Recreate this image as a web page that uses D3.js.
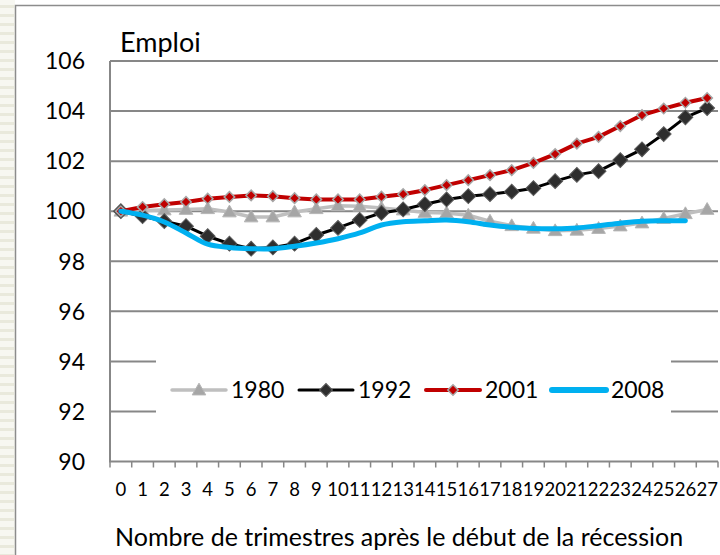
<!DOCTYPE html>
<html>
<head>
<meta charset="utf-8">
<script src="https://cdn.jsdelivr.net/npm/d3@7"></script>
<style>
  body { margin: 0; background: #fff; }
  svg { display: block; font-family: Lato, "Open Sans", sans-serif; }
</style>
</head>
<body>
<svg id="chart" width="720" height="555"></svg>
<script>
// quarters after start of recession (category axis)
var quarters = d3.range(28).map(String);
var yTicks = [90, 92, 94, 96, 98, 100, 102, 104, 106];
var seriesNames = ["1980", "1992", "2001", "2008"];

// index, 100 = start of recession
var emploi1980 = [100, 100.03, 100.05, 100.07, 100.1, 99.97, 99.77, 99.77, 99.97, 100.1,
                  100.22, 100.2, 100.13, 100.05, 99.95, 99.93, 99.84, 99.6, 99.42, 99.32,
                  99.22, 99.24, 99.31, 99.41, 99.53, 99.71, 99.9, 100.07];
var emploi1992 = [100, 99.8, 99.6, 99.4, 99.0, 98.7, 98.5, 98.55, 98.7, 99.05,
                  99.33, 99.65, 99.93, 100.07, 100.28, 100.47, 100.6, 100.68, 100.78, 100.92,
                  101.2, 101.45, 101.6, 102.04, 102.47, 103.08, 103.75, 104.12];
var emploi2001 = [100, 100.17, 100.28, 100.37, 100.5, 100.57, 100.63, 100.6, 100.52, 100.47,
                  100.47, 100.47, 100.58, 100.68, 100.84, 101.04, 101.24, 101.44, 101.64, 101.93,
                  102.28, 102.7, 102.97, 103.4, 103.84, 104.1, 104.33, 104.52];
var emploi2008 = [100, 99.84, 99.57, 99.13, 98.68, 98.55, 98.5, 98.5, 98.6, 98.73,
                  98.9, 99.13, 99.45, 99.58, 99.62, 99.65, 99.58, 99.45, 99.36, 99.31,
                  99.3, 99.33, 99.42, 99.52, 99.6, 99.62, 99.62];

var svg = d3.select("#chart");

var PLOT_LEFT = 110, PLOT_RIGHT = 718, PLOT_TOP = 61, PLOT_BOTTOM = 461.5;
var GRID_COLOR = "#878787";

var x = d3.scaleBand().domain(quarters).range([PLOT_LEFT, PLOT_RIGHT]);
var y = d3.scaleLinear().domain([90, 106]).range([PLOT_BOTTOM, PLOT_TOP]);
function cx(d, i){ return x(quarters[i]) + x.bandwidth() / 2; }

// pale striped strip on the far left (page behind the chart)
var strip = svg.append("g");
strip.append("rect").attr("x", 0).attr("y", 0).attr("width", 15).attr("height", 555).attr("fill", "#f7f7f1");
strip.selectAll("rect.stripe")
    .data(d3.range(0, 555, 9))
    .enter().append("rect")
    .attr("class", "stripe")
    .attr("x", 0).attr("width", 14)
    .attr("y", function(d){ return d + 5; })
    .attr("height", 3)
    .attr("fill", "#e9e9dc");

// chart frame
svg.append("rect")
    .attr("x", 15.5).attr("y", 5.5)
    .attr("width", 720).attr("height", 560)
    .attr("fill", "#fff")
    .attr("stroke", "#8c8c8c")
    .attr("stroke-width", 1.5);

// gridlines
svg.selectAll("line.grid")
    .data(yTicks.filter(function(t){ return t > 90; }))
    .enter().append("line")
    .attr("class", "grid")
    .attr("x1", PLOT_LEFT).attr("x2", PLOT_RIGHT)
    .attr("y1", function(d){ return y(d); })
    .attr("y2", function(d){ return y(d); })
    .style("stroke", GRID_COLOR)
    .style("stroke-width", 2);

// y axis line + labels
svg.append("line")
    .attr("x1", PLOT_LEFT).attr("x2", PLOT_LEFT)
    .attr("y1", PLOT_TOP).attr("y2", PLOT_BOTTOM)
    .style("stroke", GRID_COLOR).style("stroke-width", 2);

svg.selectAll("text.ylab")
    .data(yTicks)
    .enter().append("text")
    .attr("class", "ylab")
    .attr("x", 85)
    .attr("y", function(d){ return y(d); })
    .attr("dy", "0.36em")
    .attr("text-anchor", "end")
    .style("font-size", "23px")
    .style("fill", "#000")
    .text(function(d){ return d; });

// x axis with ticks between categories
var xAxis = d3.axisBottom(x).tickSize(0).tickPadding(21);
var gx = svg.append("g")
    .attr("transform", "translate(0," + PLOT_BOTTOM + ")")
    .call(xAxis);
gx.select(".domain").remove();
gx.selectAll("text")
    .style("font-family", "Lato, 'Open Sans', sans-serif")
    .style("font-size", "18.5px")
    .style("fill", "#000");

svg.append("line")
    .attr("x1", PLOT_LEFT - 1).attr("x2", PLOT_RIGHT)
    .attr("y1", PLOT_BOTTOM).attr("y2", PLOT_BOTTOM)
    .style("stroke", GRID_COLOR).style("stroke-width", 2);

svg.selectAll("line.xtick")
    .data(quarters.concat(["end"]))
    .enter().append("line")
    .attr("class", "xtick")
    .attr("x1", function(d, i){ return PLOT_LEFT + i * x.bandwidth(); })
    .attr("x2", function(d, i){ return PLOT_LEFT + i * x.bandwidth(); })
    .attr("y1", PLOT_BOTTOM).attr("y2", PLOT_BOTTOM + 6)
    .style("stroke", GRID_COLOR).style("stroke-width", 1.5);

// titles
svg.append("text")
    .attr("x", 120).attr("y", 52)
    .style("font-size", "27px")
    .text("Emploi");

svg.append("text")
    .attr("x", 115).attr("y", 546)
    .style("font-size", "25px")
    .text("Nombre de trimestres après le début de la récession");

// marker shapes
var triangle = d3.symbol().type(d3.symbolTriangle);
var square = d3.symbol().type(d3.symbolSquare);

var styles = {
    "1980": {stroke: "#bfbfbf", width: 3.5, marker: "tri", size: 80, fill: "#a6a6a6", mstroke: "#b5b5b5", mwidth: 1},
    "1992": {stroke: "#000000", width: 3, marker: "dia", size: 110, fill: "#2e2e2e", mstroke: "#595959", mwidth: 1},
    "2001": {stroke: "#c00000", width: 4, marker: "dia", size: 55, fill: "#c00000", mstroke: "#a6a6a6", mwidth: 1.5},
    "2008": {stroke: "#00b0f0", width: 5, marker: null}
};
var seriesData = {"1980": emploi1980, "1992": emploi1992, "2001": emploi2001, "2008": emploi2008};

function drawMarker(g, st, px, py, scale){
    if(st.marker == "tri"){
        g.append("path")
            .attr("d", triangle.size(st.size * scale)())
            .attr("transform", "translate(" + px + "," + (py + 1) + ")")
            .attr("fill", st.fill).attr("stroke", st.mstroke).attr("stroke-width", st.mwidth);
    }else if(st.marker == "dia"){
        g.append("path")
            .attr("d", square.size(st.size * scale)())
            .attr("transform", "translate(" + px + "," + py + ") rotate(45)")
            .attr("fill", st.fill).attr("stroke", st.mstroke).attr("stroke-width", st.mwidth);
    }
}

var straight = d3.line().x(cx).y(function(d){ return y(d); });
var smooth = d3.line().x(cx).y(function(d){ return y(d); }).curve(d3.curveCatmullRom.alpha(0.5));

seriesNames.forEach(function(name){
    var st = styles[name];
    var vals = seriesData[name];
    var g = svg.append("g").attr("class", "series s" + name);
    g.append("path")
        .datum(vals)
        .attr("d", name == "2008" ? smooth : straight)
        .attr("fill", "none")
        .attr("stroke", st.stroke)
        .attr("stroke-width", st.width)
        .attr("stroke-linejoin", "round")
        .attr("stroke-linecap", "round");
    vals.forEach(function(v, i){
        drawMarker(g, st, cx(v, i), y(v), 1);
    });
});

// legend (white box over the gridlines)
var legend = svg.append("g");
legend.append("rect")
    .attr("x", 156).attr("y", 354)
    .attr("width", 515).attr("height", 66)
    .attr("fill", "#fff");

var legendX = [172, 299, 426, 552];
seriesNames.forEach(function(name, i){
    var st = styles[name];
    var lx = legendX[i], ly = 390;
    legend.append("line")
        .attr("x1", lx).attr("x2", lx + 54)
        .attr("y1", ly).attr("y2", ly)
        .attr("stroke", st.stroke)
        .attr("stroke-width", name == "2008" ? 6 : st.width)
        .attr("stroke-linecap", "round");
    drawMarker(legend, st, lx + 27, ly, name == "1992" ? 0.75 : 1);
    legend.append("text")
        .attr("x", lx + 59).attr("y", ly)
        .attr("dy", "0.36em")
        .style("font-size", "23px")
        .text(name);
});
</script>
</body>
</html>
